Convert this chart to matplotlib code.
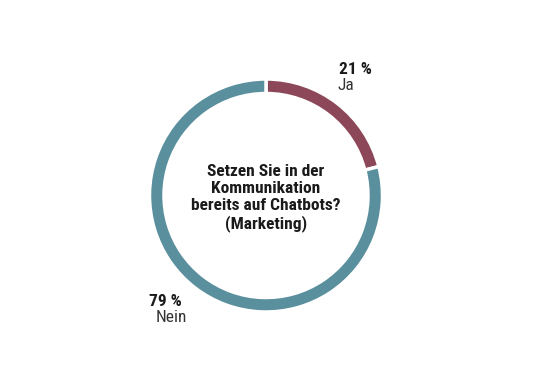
import matplotlib
matplotlib.use("Agg")
import matplotlib.pyplot as plt
from matplotlib import font_manager

labels = ["Ja", "Nein"]
values = [21, 79]
colors = ["#8c4858", "#5a8f9d"]
title = "Setzen Sie in der\nKommunikation\nbereits auf Chatbots?\n(Marketing)"

# narrow font if there is one, else condensed DejaVu
names = set(f.name for f in font_manager.fontManager.ttflist)
stretch = 'normal'
fam = 'Open Sans'
for cand in ['Roboto Condensed', 'Liberation Sans Narrow', 'Open Sans Condensed']:
    if cand in names:
        fam = cand
        break
else:
    if any(f.name == 'DejaVu Sans' and f.stretch == 'condensed' for f in font_manager.fontManager.ttflist):
        fam = 'DejaVu Sans'
        stretch = 'condensed'
plt.rcParams['font.family'] = [fam, 'DejaVu Sans']
plt.rcParams['font.stretch'] = stretch

fig = plt.figure(figsize=(5.4, 3.82), dpi=100)
ax = fig.add_axes([0, 0, 1, 1])

ax.pie(values, colors=colors, startangle=90, counterclock=False,
       center=(266, 186.5), radius=116.5,
       wedgeprops=dict(width=14.5, edgecolor='white', linewidth=2.5))
ax.set_xlim(0, 540)
ax.set_ylim(0, 382)
ax.set_aspect('equal')
ax.axis('off')

ax.text(266, 184, title, ha='center', va='center', fontsize=12.5,
        fontweight='bold', linespacing=1.15, color='#1a1a1a')

# labels
ax.text(339, 312, "%d %%" % values[0], fontsize=12.5, fontweight='bold',
        ha='left', va='center', color='#1a1a1a')
ax.text(337, 296, labels[0], fontsize=12.5, ha='left', va='center', color='#333333')
ax.text(149, 81, "%d %%" % values[1], fontsize=12.5, fontweight='bold',
        ha='left', va='center', color='#1a1a1a')
ax.text(156, 64, labels[1], fontsize=12.5, ha='left', va='center', color='#333333')

fig.savefig("out.png", dpi=100)
